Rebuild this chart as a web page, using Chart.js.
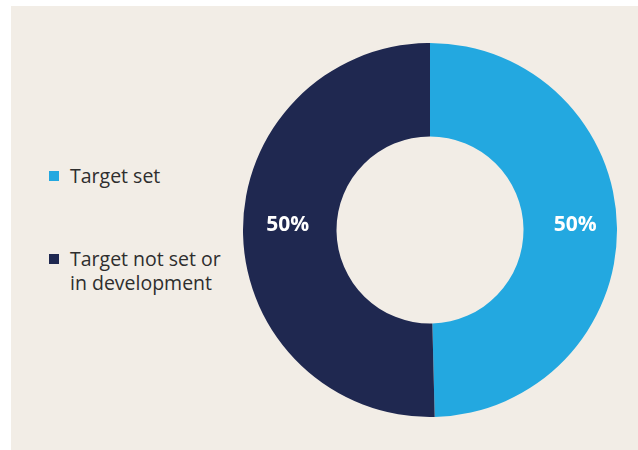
<!DOCTYPE html>
<html>
<head>
<meta charset="utf-8">
<script src="https://cdn.jsdelivr.net/npm/chart.js@4"></script>
<style>
  html, body { margin: 0; padding: 0; background: #ffffff; width: 638px; height: 450px; overflow: hidden; }
  #panel { position: absolute; left: 11px; top: 6px; width: 627px; height: 444px; background: #f2ede6; }
  #wrap { position: absolute; left: 243px; top: 43px; width: 374px; height: 374px; }
  #legend { position: absolute; left: 0; top: 0; font-family: "Open Sans", sans-serif; font-size: 19.5px; color: #2e2e2e; }
  .item { position: absolute; left: 49px; white-space: nowrap; line-height: 24px; }
  .sw { position: absolute; left: 0; width: 10px; height: 10px; }
  .txt { position: absolute; left: 21px; }
</style>
</head>
<body>
<div id="panel"></div>
<div id="legend"></div>
<div id="wrap"><canvas id="c"></canvas></div>
<script>
const categories = ["Target set", ["Target not set or", "in development"]];
const values = [49.6, 50.4];
const valueLabels = ["50%", "50%"];
const colors = ["#23a8e0", "#1f2850"];

// HTML legend built from the arrays
const legend = document.getElementById('legend');
const legendTops = [164, 247];
categories.forEach((cat, i) => {
  const lines = Array.isArray(cat) ? cat : [cat];
  const item = document.createElement('div');
  item.className = 'item';
  item.style.top = legendTops[i] + 'px';
  const sw = document.createElement('div');
  sw.className = 'sw';
  sw.style.top = '7px';
  sw.style.background = colors[i];
  const txt = document.createElement('div');
  txt.className = 'txt';
  txt.innerHTML = lines.join('<br>');
  item.appendChild(sw);
  item.appendChild(txt);
  legend.appendChild(item);
});

const sliceLabels = {
  id: 'sliceLabels',
  afterDatasetsDraw(chart) {
    const ctx = chart.ctx;
    const meta = chart.getDatasetMeta(0);
    ctx.save();
    ctx.fillStyle = '#ffffff';
    ctx.font = 'bold 21px "Open Sans", sans-serif';
    ctx.textAlign = 'center';
    ctx.textBaseline = 'middle';
    meta.data.forEach((arc, i) => {
      const p = arc.getProps(['x', 'y', 'innerRadius', 'outerRadius'], true);
      const r = (p.innerRadius + p.outerRadius) / 2 + (i === 0 ? 5 : 2);
      const side = i === 0 ? 1 : -1;
      ctx.fillText(valueLabels[i], p.x + side * r, p.y - 5);
    });
    ctx.restore();
  }
};

new Chart(document.getElementById('c'), {
  type: 'doughnut',
  data: {
    labels: categories.map(c => Array.isArray(c) ? c.join(' ') : c),
    datasets: [{
      data: values,
      backgroundColor: colors,
      borderWidth: 0,
      hoverOffset: 0
    }]
  },
  options: {
    responsive: true,
    maintainAspectRatio: false,
    animation: false,
    cutout: '50%',
    layout: { padding: 0 },
    plugins: {
      legend: { display: false },
      tooltip: { enabled: false }
    }
  },
  plugins: [sliceLabels]
});
</script>
</body>
</html>
